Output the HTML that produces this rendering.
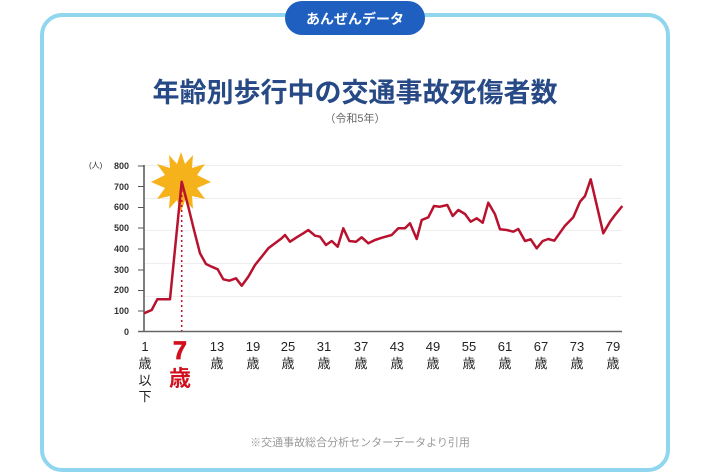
<!DOCTYPE html>
<html><head><meta charset="utf-8"><style>
html,body{margin:0;padding:0;background:#fff;}
body{width:710px;height:474px;overflow:hidden;position:relative;font-family:"Liberation Sans","Noto Sans CJK JP",sans-serif;}
</style></head><body>
<svg width="710" height="474" viewBox="0 0 710 474" xmlns="http://www.w3.org/2000/svg" style="position:absolute;left:0;top:0">
<rect x="42" y="15" width="626" height="455" rx="20" fill="#fff" stroke="#8fd6ee" stroke-width="4"/>
<rect x="285" y="1" width="140" height="34" rx="17" fill="#1f5fbf"/>
<text x="355" y="24" text-anchor="middle" font-size="14" font-weight="bold" fill="#fff" font-family="Liberation Sans,Noto Sans CJK JP,sans-serif">あんぜんデータ</text>
<text x="355" y="102" text-anchor="middle" font-size="27" font-weight="bold" fill="#274a86" font-family="Liberation Sans,Noto Sans CJK JP,sans-serif">年齢別歩行中の交通事故死傷者数</text>
<text x="355" y="122" text-anchor="middle" font-size="11" fill="#666" font-family="Liberation Sans,Noto Sans CJK JP,sans-serif">（令和5年）</text>
<g stroke="#eee" stroke-width="1">
<line x1="144" y1="165.5" x2="622" y2="165.5"/><line x1="144" y1="198.5" x2="622" y2="198.5"/>
<line x1="144" y1="230.5" x2="622" y2="230.5"/><line x1="144" y1="263.5" x2="622" y2="263.5"/>
<line x1="144" y1="296.5" x2="622" y2="296.5"/>
</g>
<g font-size="9" fill="#333" text-anchor="end" font-weight="bold" font-family="Liberation Sans,sans-serif">
<text x="129" y="169">800</text><text x="129" y="190">700</text><text x="129" y="210">600</text>
<text x="129" y="231">500</text><text x="129" y="252">400</text><text x="129" y="273">300</text>
<text x="129" y="293">200</text><text x="129" y="314">100</text><text x="129" y="335">0</text>
</g>
<text x="89" y="168" font-size="8" fill="#333" font-family="Liberation Sans,Noto Sans CJK JP,sans-serif">(人)</text>
<g stroke="#555" stroke-width="1">
<line x1="138" y1="166" x2="144" y2="166"/><line x1="138" y1="186.5" x2="144" y2="186.5"/><line x1="138" y1="207.5" x2="144" y2="207.5"/>
<line x1="138" y1="228" x2="144" y2="228"/><line x1="138" y1="249" x2="144" y2="249"/><line x1="138" y1="270" x2="144" y2="270"/>
<line x1="138" y1="290.5" x2="144" y2="290.5"/><line x1="138" y1="311" x2="144" y2="311"/>
</g>
<line x1="144" y1="165" x2="144" y2="332" stroke="#555" stroke-width="1.5"/>
<line x1="138" y1="331.5" x2="622" y2="331.5" stroke="#666" stroke-width="1.5"/>
<polygon fill="#f5b21b" points="181,152 185,164 193,155 192,168 205,164 197,175 211,182 197,188 205,199 192,196 193,209 185,200 181,212 177,200 169,209 170,196 157,199 165,188 151,182 165,175 157,164 170,168 169,155 177,164"/>
<line x1="181.7" y1="185" x2="181.7" y2="331" stroke="#c8102e" stroke-width="1.5" stroke-dasharray="2,3"/>
<polyline fill="none" stroke="#b8122f" stroke-width="2.5" stroke-linejoin="round" points="144,313.3 151.7,310 157.3,299.3 163.3,299.3 170,299.3 181.7,181.7 188.3,206.7 194,230 200,253.3 206,264 211.7,266.7 217.7,269.3 223.3,279.3 229.3,280.7 236,278.3 241.7,285.7 248.3,276.7 255,265 261.7,256.7 268.3,248.3 275,243.3 281.7,238.3 285,235 290,241.7 296.7,237.3 303.3,233.3 308.3,230 315,235.7 320,236.7 326,245 331.7,241 337.7,246.7 343.3,228.3 349.3,241 356,241.7 361.7,237.3 368.3,243.3 375,240 383.3,237.3 391.7,235 398.3,228.3 405,228.3 410,223.3 416.7,239 421.7,220 428.3,217.3 434,206 440,206.7 447.3,205 452.7,216 458.3,210 465,214 470.7,221.7 476.7,218.3 482.7,222.7 488.3,202.7 495,214.3 500,229.3 506.7,230 513.3,231.7 518.3,229 525,241 530.7,239.3 536.7,248.3 542.7,241 548.3,239 554.3,240.7 560,232.7 565,225.7 573.3,217.3 580,201.7 585,196 590.7,179.3 603.3,233.3 610,221.7 615,215 622.3,206"/>
<g font-size="13" fill="#222" text-anchor="middle" font-family="Liberation Sans,Noto Sans CJK JP,sans-serif">
<text x="145" y="351">1</text><text x="145" y="368">歳</text><text x="145" y="385">以</text><text x="145" y="401">下</text>
<text x="217" y="351">13</text><text x="217" y="368">歳</text>
<text x="253" y="351">19</text><text x="253" y="368">歳</text>
<text x="288" y="351">25</text><text x="288" y="368">歳</text>
<text x="324" y="351">31</text><text x="324" y="368">歳</text>
<text x="361" y="351">37</text><text x="361" y="368">歳</text>
<text x="397" y="351">43</text><text x="397" y="368">歳</text>
<text x="433" y="351">49</text><text x="433" y="368">歳</text>
<text x="469" y="351">55</text><text x="469" y="368">歳</text>
<text x="505" y="351">61</text><text x="505" y="368">歳</text>
<text x="541" y="351">67</text><text x="541" y="368">歳</text>
<text x="577" y="351">73</text><text x="577" y="368">歳</text>
<text x="613" y="351">79</text><text x="613" y="368">歳</text>
</g>
<text x="180" y="359" text-anchor="middle" font-size="25" font-weight="bold" fill="#d0101e" stroke="#d0101e" stroke-width="0.8" font-family="Liberation Sans,sans-serif">7</text>
<text x="180" y="386" text-anchor="middle" font-size="22" font-weight="bold" fill="#d0101e" font-family="Liberation Sans,Noto Sans CJK JP,sans-serif">歳</text>
<text x="360" y="446" text-anchor="middle" font-size="11" fill="#999" font-family="Liberation Sans,Noto Sans CJK JP,sans-serif">※交通事故総合分析センターデータより引用</text>
</svg>
</body></html>
